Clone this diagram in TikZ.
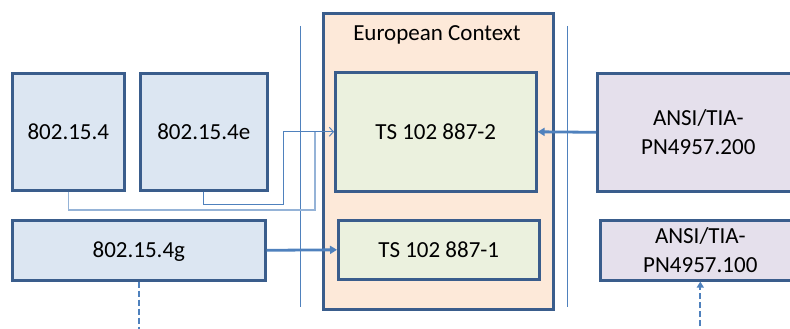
\documentclass[tikz,border=0pt]{standalone}
\usepackage{fontspec}
\setmainfont{Carlito}
\usetikzlibrary{arrows.meta}
\definecolor{bdr}{HTML}{3A5D8C}
\definecolor{bluefill}{HTML}{DCE6F2}
\definecolor{greenfill}{HTML}{EBF1DE}
\definecolor{peach}{HTML}{FDE9D9}
\definecolor{lavender}{HTML}{E5E0EC}
\definecolor{lnk}{HTML}{4F81BD}
\definecolor{lnklight}{HTML}{95B3D7}
\tikzset{
  boxbase/.style={draw=bdr, line width=2.6pt, anchor=north west, inner sep=0pt,
    font=\fontsize{23}{28.5}\selectfont, text height=15pt, text depth=0pt},
  bluebox/.style={boxbase, fill=bluefill},
  greenbox/.style={boxbase, fill=greenfill},
  lavbox/.style={boxbase, fill=lavender, align=center, text height=, text depth=},
  ctxbox/.style={draw=bdr, line width=2.6pt, fill=peach, anchor=north west, inner sep=0pt},
  sepline/.style={draw=lnk, line width=1pt},
  thinconn/.style={draw=lnk, line width=1pt, -{Straight Barb[length=4pt,width=9pt,line width=1pt]}},
  thinconnlight/.style={draw=lnklight, line width=1.2pt},
  thickarrow/.style={draw=lnk, line width=2.8pt, -{Triangle[length=7pt,width=8pt]}},
  dashline/.style={draw=lnk, line width=2.2pt, dash pattern=on 6pt off 3pt},
}
\begin{document}
\begin{tikzpicture}[x=1pt,y=-1pt]
\useasboundingbox (0,0) rectangle (790,329);

% European context box
\node[ctxbox, minimum width=230pt, minimum height=296pt] (ctx) at (322,12) {};
\node[font=\fontsize{23}{28}\selectfont, anchor=base] (ctxtitle) at (437,41) {European Context};

% separator lines
\coordinate (s1a) at (300,26); \coordinate (s1b) at (300,307);
\coordinate (s2a) at (567,26); \coordinate (s2b) at (567,307);
\draw[sepline] (s1a) -- (s1b);
\draw[sepline] (s2a) -- (s2b);

% left boxes
\node[bluebox, minimum width=112pt, minimum height=117pt] (a) at (11,72) {802.15.4};
\node[bluebox, minimum width=127pt, minimum height=117pt] (b) at (139,72) {802.15.4e};
\node[bluebox, minimum width=253pt, minimum height=60pt] (g) at (11,219) {802.15.4g};

% TS boxes
\node[greenbox, minimum width=201pt, minimum height=119pt] (ts2) at (334,71) {TS 102 887-2};
\node[greenbox, minimum width=201pt, minimum height=59pt] (ts1) at (337,219) {TS 102 887-1};

% ANSI boxes
\node[lavbox, minimum width=202pt, minimum height=118pt] (an2) at (596,72) {ANSI/TIA-\\PN4957.200};
\node[lavbox, minimum width=200pt, minimum height=60pt] (an1) at (599,219) {ANSI/TIA-\\PN4957.100};

% thin connectors
\coordinate (pa) at (315,210);
\coordinate (pb) at (283,204);
\draw[thinconnlight] (a.south) |- (pa) |- (ts2.west);
\draw[thinconn] (b.south) |- (pb) |- (ts2.west);

% thick arrows
\draw[thickarrow] (g.east) -- (ts1.west);
\draw[thickarrow] (an2.west) -- (ts2.east);

% dashed lines
\coordinate (gend) at (g.south |- 0,335);
\draw[dashline] (g.south) -- (gend);
\coordinate (an1start) at (an1.south |- 0,335);
\draw[dashline, -{Triangle[length=6pt,width=7pt]}] (an1start) -- (an1.south);
\end{tikzpicture}
\end{document}
